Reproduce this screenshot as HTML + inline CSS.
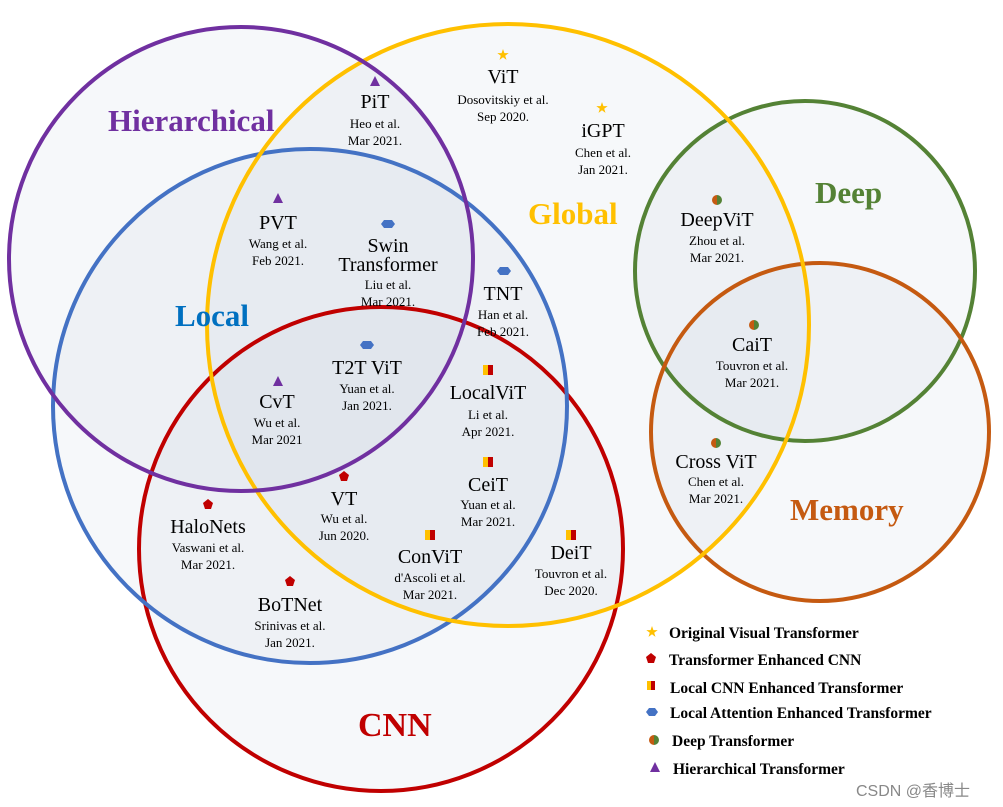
<!DOCTYPE html>
<html><head><meta charset="utf-8"><style>
html,body{margin:0;padding:0;background:#fff;}
svg{display:block;}
text{font-family:"Liberation Serif",serif;}
.t{font-size:20px;fill:#000;text-anchor:middle;}
.s{font-size:13px;fill:#000;text-anchor:middle;}
.big{font-weight:bold;font-size:31px;}
.lg{font-weight:bold;font-size:15.5px;fill:#000;}
</style></head><body>
<svg width="1003" height="807" viewBox="0 0 1003 807" xmlns="http://www.w3.org/2000/svg">
<defs>
<symbol id="star" viewBox="-6 -6 12 12"><polygon points="0,-6 1.4,-1.9 5.7,-1.9 2.2,0.7 3.5,4.9 0,2.3 -3.5,4.9 -2.2,0.7 -5.7,-1.9 -1.4,-1.9" fill="#ffc000"/></symbol>
</defs>
<g fill="#b8c4d8" fill-opacity="0.12">
<circle cx="241" cy="259" r="232"/>
<circle cx="508" cy="325" r="301"/>
<circle cx="310" cy="406" r="257"/>
<circle cx="381" cy="549" r="242"/>
<circle cx="805" cy="271" r="170"/>
<circle cx="820" cy="432" r="169"/>
</g>
<g fill="none" stroke-width="4">
<circle cx="805" cy="271" r="170" stroke="#548235"/>
<circle cx="820" cy="432" r="169" stroke="#c55a11"/>
<circle cx="381" cy="549" r="242" stroke="#c00000"/>
<circle cx="310" cy="406" r="257" stroke="#4472c4"/>
<circle cx="508" cy="325" r="301" stroke="#ffc000"/>
<circle cx="241" cy="259" r="232" stroke="#7030a0"/>
</g>
<text class="big" x="108" y="131" fill="#7030a0">Hierarchical</text>
<text class="big" x="528" y="224" fill="#ffc000">Global</text>
<text class="big" x="175" y="326" fill="#0070c0">Local</text>
<text class="big" x="815" y="203" fill="#548235">Deep</text>
<text class="big" x="790" y="520" fill="#c55a11">Memory</text>
<text class="big" x="358" y="736" fill="#c00000" style="font-size:34px">CNN</text>

<!-- markers -->
<use href="#star" x="497" y="49" width="12" height="12"/>
<use href="#star" x="596" y="102" width="12" height="12"/>
<g fill="#7030a0">
<polygon points="375,76 370,86 380,86"/>
<polygon points="278,193 273,203 283,203"/>
<polygon points="278,376 273,386 283,386"/>
</g>
<g fill="#4472c4">
<polygon points="384,220 392,220 395,224 392,228 384,228 381,224"/>
<polygon points="500,267 508,267 511,271 508,275 500,275 497,271"/>
<polygon points="363,341 371,341 374,345 371,349 363,349 360,345"/>
</g>
<g>
<rect x="483" y="365" width="5" height="10" fill="#ffc000"/><rect x="488" y="365" width="5" height="10" fill="#c00000"/>
<rect x="483" y="457" width="5" height="10" fill="#ffc000"/><rect x="488" y="457" width="5" height="10" fill="#c00000"/>
<rect x="425" y="530" width="5" height="10" fill="#ffc000"/><rect x="430" y="530" width="5" height="10" fill="#c00000"/>
<rect x="566" y="530" width="5" height="10" fill="#ffc000"/><rect x="571" y="530" width="5" height="10" fill="#c00000"/>
</g>
<g fill="#c00000">
<polygon points="344,471 349,475 347,481 341,481 339,475"/>
<polygon points="208,499 213,503 211,509 205,509 203,503"/>
<polygon points="290,576 295,580 293,586 287,586 285,580"/>
</g>
<g>
<path d="M717,195 a5,5 0 0 0 0,10 z" fill="#c55a11"/><path d="M717,195 a5,5 0 0 1 0,10 z" fill="#548235"/>
<path d="M754,320 a5,5 0 0 0 0,10 z" fill="#c55a11"/><path d="M754,320 a5,5 0 0 1 0,10 z" fill="#548235"/>
<path d="M716,438 a5,5 0 0 0 0,10 z" fill="#c55a11"/><path d="M716,438 a5,5 0 0 1 0,10 z" fill="#548235"/>
</g>

<!-- nodes -->
<text class="t" x="503" y="83">ViT</text><text class="s" x="503" y="104">Dosovitskiy et al.</text><text class="s" x="503" y="121">Sep 2020.</text>
<text class="t" x="375" y="108">PiT</text><text class="s" x="375" y="128">Heo et al.</text><text class="s" x="375" y="145">Mar 2021.</text>
<text class="t" x="603" y="137">iGPT</text><text class="s" x="603" y="157">Chen et al.</text><text class="s" x="603" y="174">Jan 2021.</text>
<text class="t" x="278" y="229">PVT</text><text class="s" x="278" y="248">Wang et al.</text><text class="s" x="278" y="265">Feb 2021.</text>
<text class="t" x="388" y="252">Swin</text><text class="t" x="388" y="271">Transformer</text><text class="s" x="388" y="289">Liu et al.</text><text class="s" x="388" y="306">Mar 2021.</text>
<text class="t" x="503" y="300">TNT</text><text class="s" x="503" y="319">Han et al.</text><text class="s" x="503" y="336">Feb 2021.</text>
<text class="t" x="717" y="226">DeepViT</text><text class="s" x="717" y="245">Zhou et al.</text><text class="s" x="717" y="262">Mar 2021.</text>
<text class="t" x="752" y="351">CaiT</text><text class="s" x="752" y="370">Touvron et al.</text><text class="s" x="752" y="387">Mar 2021.</text>
<text class="t" x="716" y="468">Cross ViT</text><text class="s" x="716" y="486">Chen et al.</text><text class="s" x="716" y="503">Mar 2021.</text>
<text class="t" x="367" y="374">T2T ViT</text><text class="s" x="367" y="393">Yuan et al.</text><text class="s" x="367" y="410">Jan 2021.</text>
<text class="t" x="277" y="408">CvT</text><text class="s" x="277" y="427">Wu et al.</text><text class="s" x="277" y="444">Mar 2021</text>
<text class="t" x="488" y="399">LocalViT</text><text class="s" x="488" y="419">Li et al.</text><text class="s" x="488" y="436">Apr 2021.</text>
<text class="t" x="488" y="491">CeiT</text><text class="s" x="488" y="509">Yuan et al.</text><text class="s" x="488" y="526">Mar 2021.</text>
<text class="t" x="344" y="505">VT</text><text class="s" x="344" y="523">Wu et al.</text><text class="s" x="344" y="540">Jun 2020.</text>
<text class="t" x="208" y="533">HaloNets</text><text class="s" x="208" y="552">Vaswani et al.</text><text class="s" x="208" y="569">Mar 2021.</text>
<text class="t" x="430" y="563">ConViT</text><text class="s" x="430" y="582">d'Ascoli et al.</text><text class="s" x="430" y="599">Mar 2021.</text>
<text class="t" x="571" y="559">DeiT</text><text class="s" x="571" y="578">Touvron et al.</text><text class="s" x="571" y="595">Dec 2020.</text>
<text class="t" x="290" y="611">BoTNet</text><text class="s" x="290" y="630">Srinivas et al.</text><text class="s" x="290" y="647">Jan 2021.</text>

<!-- legend -->
<use href="#star" x="646" y="626" width="12" height="12"/>
<polygon points="651,653 656,657 654,663 648,663 646,657" fill="#c00000"/>
<rect x="647" y="681" width="4" height="9" fill="#ffc000"/><rect x="651" y="681" width="4" height="9" fill="#c00000"/>
<polygon points="649,708 655,708 658,712 655,716 649,716 646,712" fill="#4472c4"/>
<path d="M654,735 a5,5 0 0 0 0,10 z" fill="#c55a11"/><path d="M654,735 a5,5 0 0 1 0,10 z" fill="#548235"/>
<polygon points="655,762 650,772 660,772" fill="#7030a0"/>
<text class="lg" x="669" y="638">Original Visual Transformer</text>
<text class="lg" x="669" y="665">Transformer Enhanced CNN</text>
<text class="lg" x="670" y="693">Local CNN Enhanced Transformer</text>
<text class="lg" x="670" y="718">Local Attention Enhanced Transformer</text>
<text class="lg" x="672" y="746">Deep Transformer</text>
<text class="lg" x="673" y="774">Hierarchical Transformer</text>
<text x="856" y="796" style="font-family:'Liberation Sans','Noto Sans CJK SC',sans-serif;font-size:16px;fill:#888">CSDN @香博士</text>
</svg>
</body></html>
